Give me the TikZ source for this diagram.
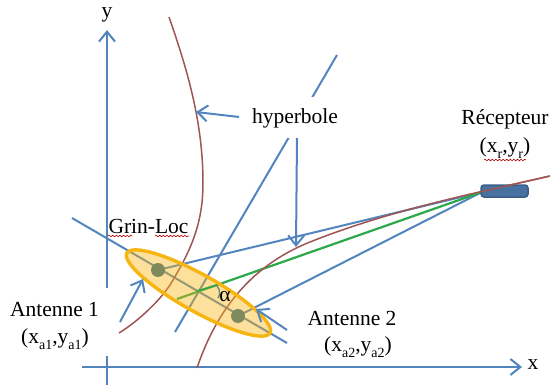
\documentclass[tikz,border=0pt]{standalone}
\usepackage{fontspec}
\setmainfont{Liberation Serif}
\usetikzlibrary{arrows.meta,shapes.geometric,decorations.pathmorphing}
\definecolor{lblue}{HTML}{5285BE}
\definecolor{lred}{HTML}{A05555}
\definecolor{lgreen}{HTML}{2BA84A}
\definecolor{lorange}{HTML}{F7B512}
\definecolor{ldot}{HTML}{7F8A5C}
\newcommand{\lowtxt}[1]{\raisebox{-0.28em}{\fontsize{14}{14}\selectfont #1}}
\tikzset{
  bline/.style={draw=lblue,line width=2pt},
  barrow/.style={bline,-{Straight Barb[length=10pt,width=16pt,line width=2pt]}},
  hyper/.style={draw=lred,line width=1.5pt},
  mask/.style={fill=white,inner sep=0pt},
  lbl/.style={inner sep=0pt,align=center,font=\lab},
  dotn/.style={circle,fill=ldot,minimum size=14pt,inner sep=0pt},
  wavy/.style={draw=red!70!black,line width=.6pt,decorate,decoration={snake,amplitude=.8pt,segment length=3.6pt}}
}
\newcommand{\lab}{\fontsize{21.5}{29}\selectfont}
\begin{document}
\begin{tikzpicture}[x=1pt,y=-1pt]
\useasboundingbox (0,0) rectangle (550,388);
% named ends
\coordinate (yb) at (107,385);
\coordinate (yt) at (107,30);
\coordinate (xl) at (82,367);
\coordinate (xr) at (522,367);
\coordinate (p1) at (337,55);
\coordinate (p2) at (175,332);
\coordinate (a1) at (72,218);
\coordinate (a2) at (287,343);
\coordinate (g1) at (177,299);
\node[inner sep=0pt,minimum width=48pt,minimum height=14pt] (rec) at (504.5,191) {};
\coordinate (rc) at (482,192);
\coordinate (d1) at (158,270);
\coordinate (d2) at (238,316);
% lines below masks
\draw[barrow] (yb) -- (yt);
\draw[barrow] (xl) -- (xr);
\draw[bline] (p1) -- (p2);
\draw[bline] (a1) -- (a2);
\draw[bline] (rc) -- (d1);
\draw[bline] (rc) -- (d2);
\draw[draw=lgreen,line width=2.2pt] (rc) -- (g1);
% white label boxes
\node[mask,minimum width=114pt,minimum height=68pt] (ant1box) at (55,322) {};
\node[mask,minimum width=116pt,minimum height=41pt] (hyp) at (295,117.5) {};
% hyperbolas
\draw[hyper] (169,17) .. controls (186,66) and (203,120) .. (203,183)
  .. controls (203,225) and (190,252) .. (170,285)
  .. controls (160,300) and (140,320) .. (119,333);
\draw[hyper] (550,176) .. controls (480,192) and (390,210) .. (310,242)
  .. controls (260,262) and (220,300) .. (197,368);
% ellipse
\node[ellipse,rotate=-29.2,minimum width=164pt,minimum height=37pt,inner sep=0pt,
  draw=lorange,fill=lorange,fill opacity=.42,draw opacity=1,line width=3.4pt] (ell) at (198.5,293) {};
% angle mark
\draw[draw=ldot!80!lblue,line width=1.4pt] (217,286) .. controls (221,291) and (220,295) .. (218,298);
\draw[draw=lgreen,line width=1.6pt] (197,291) -- (217,285);
% dots
\node[dotn] (dot1) at (d1) {};
\node[dotn] (dot2) at (d2) {};
% receiver
\node[draw=lblue!70!black,fill=lblue!85!black,rounded corners=3pt,line width=1.5pt,minimum width=47pt,minimum height=12pt,inner sep=0pt] at (rec) {};
\draw[hyper] (480,192) -- (550,176);
% arrows to targets
\coordinate (ae1) at (120,322); \coordinate (at1) at (143,279);
\coordinate (ae2) at (287,330); \coordinate (at2) at (256,309);
\coordinate (he1) at (239,117); \coordinate (ht1) at (196,112);
\coordinate (he2) at (297,138); \coordinate (ht2) at (296,247);
\draw[barrow] (ae1) -- (at1);
\draw[barrow] (ae2) -- (at2);
\draw[barrow] (he1) -- (ht1);
\draw[barrow] (he2) -- (ht2);
% labels
\node[lbl] (ylab) at (107,15) {y};
\node[lbl] (xlab) at (533,365) {x};
\node[lbl] (hyplab) at (295,118) {hyperbole};
\node[lbl] (ant1) at (54.5,310) {Antenne 1};
\node[lbl] (ant1c) at (55,339) {(x\lowtxt{a1},y\lowtxt{a1})};
\node[lbl] (grin) at (148.5,226) {Grin-Loc};
\node[lbl] (recl) at (505,119) {Récepteur};
\node[lbl] (recc) at (505,148) {(x\lowtxt{r},y\lowtxt{r})};
\node[lbl] (ant2) at (352,318) {Antenne 2};
\node[lbl] (ant2c) at (358,347) {(x\lowtxt{a2},y\lowtxt{a2})};
\node[lbl] (alpha) at (225,297) {α};
% spell-check underlines
\draw[wavy] (108,236) -- (132,236);
\draw[wavy] (155,236) -- (189,236);
\draw[wavy] (484,160) -- (526,160);
\end{tikzpicture}
\end{document}
